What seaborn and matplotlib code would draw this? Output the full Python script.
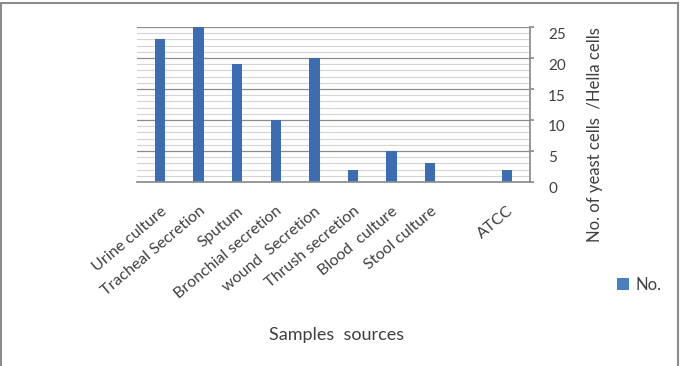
import matplotlib
matplotlib.use("Agg")
import matplotlib.pyplot as plt
import matplotlib.transforms as mtrans
import seaborn as sns
import pandas as pd
from matplotlib.patches import Rectangle, Patch
from matplotlib.ticker import MultipleLocator

categories = ["Urine culture", "Tracheal Secretion", "Sputum", "Bronchial secretion",
              "wound  Secretion", "Thrush secretion", "Blood  culture", "Stool culture",
              " ", "ATCC"]
data_categories = ["Urine culture", "Tracheal Secretion", "Sputum", "Bronchial secretion",
                   "wound  Secretion", "Thrush secretion", "Blood  culture", "Stool culture",
                   "ATCC"]
values = [23, 25, 19, 10, 20, 2, 5, 3, 2]
yticks = [0, 5, 10, 15, 20, 25]

sns.set_theme(style="white")
plt.rcParams["font.family"] = ["Lato", "DejaVu Sans"]

df = pd.DataFrame({"source": data_categories, "No.": values})

fig = plt.figure(figsize=(6.85, 3.66), dpi=100)
ax = fig.add_axes([0.2, 0.503, 0.574, 0.423])

sns.barplot(data=df, x="source", y="No.", order=categories, color="#3c6cb2",
            width=0.27, linewidth=0, saturation=1, ax=ax)

ax.set_ylim(0, 25)
ax.set_xlim(-0.6, 9.6)
ax.yaxis.set_minor_locator(MultipleLocator(1))
ax.set_yticks(yticks)
ax.grid(axis="y", which="minor", color="#d4d4d4", linewidth=0.8)
ax.grid(axis="y", which="major", color="#8c8c8c", linewidth=0.9)
ax.set_axisbelow(True)
for s in ["top", "left"]:
    ax.spines[s].set_visible(False)
ax.spines["bottom"].set_color("#8c8c8c")
ax.spines["right"].set_color("#8c8c8c")
ax.yaxis.tick_right()
ax.tick_params(axis="y", which="minor", left=False, right=False)
ax.tick_params(axis="y", which="major", right=True, length=3, color="#8c8c8c",
               labelsize=11, labelcolor="#404040", pad=10)
ax.tick_params(axis="x", length=0, labelsize=11.5, labelcolor="#404040", pad=16)
plt.setp(ax.get_xticklabels(), rotation=40, ha="right", rotation_mode="anchor")
shift = mtrans.ScaledTranslation(0, -6 / 100, fig.dpi_scale_trans)
for lab in ax.get_yticklabels():
    lab.set_transform(lab.get_transform() + shift)
ax.set_xlabel("")
ax.set_ylabel("")

fig.text(595 / 685, 1 - 135 / 366, "No. of yeast cells  /Hella cells", rotation=90,
         ha="center", va="center", fontsize=12, color="#404040")
fig.text(337 / 685, 1 - 335 / 366, "Samples  sources", ha="center", va="center",
         fontsize=13, color="#404040")

handle = Patch(facecolor="#4a7fc0", edgecolor="none")
fig.legend([handle], ["No."], loc="center left", bbox_to_anchor=(617 / 685, 1 - 285 / 366),
           frameon=False, fontsize=12, handlelength=0.7, handleheight=0.7,
           handletextpad=0.4, borderpad=0, borderaxespad=0, labelcolor="#404040")

fig.patches.append(Rectangle((1 / 685, -0.05), 677 / 685, 1.05 - 3 / 366,
                             transform=fig.transFigure, fill=False,
                             edgecolor="#8c8c8c", linewidth=1.5))

fig.savefig("out.png", dpi=100)
